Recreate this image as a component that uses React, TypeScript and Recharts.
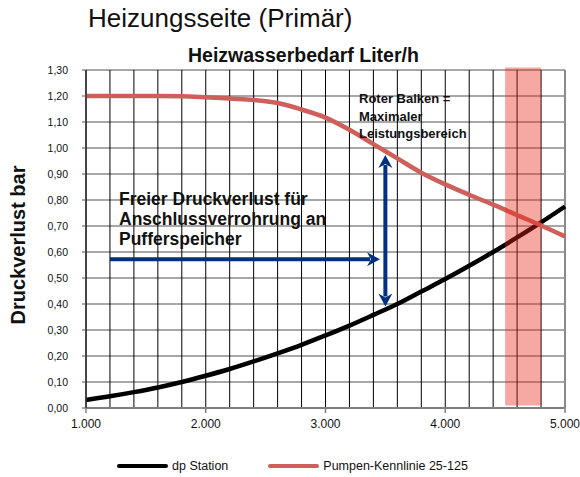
import React from "react";
import {
  LineChart,
  Line,
  XAxis,
  YAxis,
  CartesianGrid,
  ReferenceArea,
  ReferenceLine,
  Legend,
} from "recharts";

// Durchfluss Liter/h
const flowRates = [
  1000, 1200, 1400, 1600, 1800, 2000, 2200, 2400, 2600, 2800, 3000, 3200, 3400,
  3600, 3800, 4000, 4200, 4400, 4600, 4800, 5000,
];
// Druckverlust Station (bar)
const dpStation = [
  0.031, 0.045, 0.061, 0.079, 0.1, 0.124, 0.15, 0.179, 0.21, 0.243, 0.279,
  0.317, 0.358, 0.4, 0.448, 0.496, 0.547, 0.6, 0.656, 0.714, 0.775,
];
// Pumpen-Kennlinie (bar)
const pumpCurve = [
  1.2, 1.2, 1.2, 1.2, 1.199, 1.195, 1.19, 1.185, 1.173, 1.148, 1.117, 1.07,
  1.015, 0.96, 0.905, 0.86, 0.82, 0.782, 0.742, 0.702, 0.66,
];

const seriesNames = ["dp Station", "Pumpen-Kennlinie 25-125"];

const xTicks = flowRates;
const yTicks = [0, 0.1, 0.2, 0.3, 0.4, 0.5, 0.6, 0.7, 0.8, 0.9, 1.0, 1.1, 1.2, 1.3];

// roter Balken (max. Leistungsbereich)
const bandRange = [4500, 4800];
// Pfeile
const freeArrow = [
  { x: 1200, y: 0.572 },
  { x: 3455, y: 0.572 },
];
const dpArrow = [
  { x: 3500, y: 0.973 },
  { x: 3500, y: 0.39 },
];

const data = flowRates.map((q, i) => ({
  q,
  dp: dpStation[i],
  pump: pumpCurve[i],
}));

const FONT = "'Liberation Sans', Arial, sans-serif";
const NAVY = "#00307f";

const fmtNum = (v: number) =>
  v.toLocaleString("de-DE", { minimumFractionDigits: 0, maximumFractionDigits: 0 });

const XTick = (props: any) => {
  const { x, y, payload } = props;
  if (payload.value % 1000 !== 0) return null;
  return (
    <g>
      <line x1={x} x2={x} y1={y} y2={y + 5} stroke="#7f7f7f" strokeWidth={1.5} />
      <text
        x={x}
        y={y + 20}
        textAnchor="middle"
        fontSize={12}
        fontFamily={FONT}
        fill="#111"
      >
        {fmtNum(payload.value)}
      </text>
    </g>
  );
};

const arrowHead = (tx: number, ty: number, ux: number, uy: number) => {
  const L = 13;
  const W = 7;
  const N = 4;
  const nx = -uy;
  const ny = ux;
  const pts = [
    [tx, ty],
    [tx - ux * L + nx * W, ty - uy * L + ny * W],
    [tx - ux * (L - N), ty - uy * (L - N)],
    [tx - ux * L - nx * W, ty - uy * L - ny * W],
  ];
  return pts.map((p) => p.join(",")).join(" ");
};

const makeArrow = (both: boolean) => (props: any) => {
  const { x1, y1, x2, y2 } = props;
  const len = Math.hypot(x2 - x1, y2 - y1) || 1;
  const ux = (x2 - x1) / len;
  const uy = (y2 - y1) / len;
  const back = 10;
  const sx = both ? x1 + ux * back : x1;
  const sy = both ? y1 + uy * back : y1;
  return (
    <g>
      <line
        x1={sx}
        y1={sy}
        x2={x2 - ux * back}
        y2={y2 - uy * back}
        stroke={NAVY}
        strokeWidth={4}
      />
      <polygon points={arrowHead(x2, y2, ux, uy)} fill={NAVY} />
      {both && <polygon points={arrowHead(x1, y1, -ux, -uy)} fill={NAVY} />}
    </g>
  );
};

const LegendContent = (props: any) => {
  const payload = [...(props.payload || [])].sort(
    (a: any, b: any) => seriesNames.indexOf(a.value) - seriesNames.indexOf(b.value)
  );
  return (
    <div
      style={{
        display: "flex",
        alignItems: "center",
        paddingLeft: 117,
        height: 20,
        fontFamily: FONT,
        fontSize: 12.5,
        color: "#111",
      }}
    >
      {payload.map((entry: any, i: number) => (
        <div
          key={entry.value}
          style={{ display: "flex", alignItems: "center", marginRight: i === 0 ? 40 : 0 }}
        >
          <div
            style={{
              width: 51,
              height: 4,
              borderRadius: 2,
              background: entry.color,
              marginRight: 4,
            }}
          />
          <span>{entry.value}</span>
        </div>
      ))}
    </div>
  );
};

export default function App() {
  return (
    <div
      style={{
        position: "absolute",
        left: 0,
        top: 0,
        width: 580,
        height: 477,
        background: "#fff",
        fontFamily: FONT,
      }}
    >
      {/* Titel */}
      <div
        style={{
          position: "absolute",
          left: 88,
          top: 5,
          fontSize: 26,
          lineHeight: "26px",
          whiteSpace: "nowrap",
          color: "#111",
        }}
      >
        Heizungsseite (Primär)
      </div>
      <div
        style={{
          position: "absolute",
          left: 188,
          top: 46,
          fontSize: 19.5,
          lineHeight: "19.5px",
          fontWeight: "bold",
          whiteSpace: "nowrap",
          color: "#111",
        }}
      >
        Heizwasserbedarf Liter/h
      </div>

      <LineChart
        width={580}
        height={477}
        data={data}
        margin={{ top: 70, right: 15, left: 0, bottom: 39 }}
      >
        {/* Grid */}
        <CartesianGrid vertical={false} stroke="#8a8a8a" strokeWidth={1.5} />
        <CartesianGrid horizontal={false} stroke="#000" strokeWidth={1} />

        {/* X-Axis */}
        <XAxis
          dataKey="q"
          type="number"
          domain={[1000, 5000]}
          ticks={xTicks}
          interval={0}
          height={30}
          tickLine={false}
          tickSize={0}
          tickMargin={0}
          axisLine={{ stroke: "#7f7f7f", strokeWidth: 2 }}
          tick={<XTick />}
        />

        {/* Y-Axis */}
        <YAxis
          type="number"
          domain={[0, 1.3]}
          ticks={yTicks}
          interval={0}
          width={86}
          tickSize={4}
          tickMargin={14}
          tickLine={{ stroke: "#555" }}
          axisLine={{ stroke: "#333", strokeWidth: 1.5 }}
          tick={{ fontSize: 10.5, fill: "#111", fontFamily: FONT }}
          tickFormatter={(v: number) => v.toFixed(2).replace(".", ",")}
        />

        <ReferenceLine x={5000} stroke="#8a8a8a" strokeWidth={2} />

        {/* Kurven */}
        <Line
          type="monotone"
          dataKey="dp"
          name={seriesNames[0]}
          stroke="#000"
          strokeWidth={4.5}
          dot={false}
          isAnimationActive={false}
        />
        <Line
          type="monotone"
          dataKey="pump"
          name={seriesNames[1]}
          stroke="#cf5f5a"
          strokeWidth={4.5}
          dot={false}
          isAnimationActive={false}
        />

        {/* Roter Balken */}
        <ReferenceArea
          x1={bandRange[0]}
          x2={bandRange[1]}
          y1={0.01}
          y2={1.31}
          ifOverflow="visible"
          fill="#e8281a"
          fillOpacity={0.4}
          stroke="none"
          zIndex={450}
        />

        {/* Pfeile */}
        <ReferenceLine segment={freeArrow} shape={makeArrow(false)} zIndex={460} />
        <ReferenceLine segment={dpArrow} shape={makeArrow(true)} zIndex={460} />

        <Legend
          verticalAlign="middle"
          align="center"
          layout="horizontal"
          wrapperStyle={{ top: 456, left: 0, width: 580 }}
          content={<LegendContent />}
        />
      </LineChart>

      {/* Y-Achsentitel */}
      <div
        style={{
          position: "absolute",
          left: 18,
          top: 245,
          transform: "translate(-50%, -50%) rotate(-90deg)",
          fontSize: 20,
          fontWeight: "bold",
          whiteSpace: "nowrap",
          color: "#111",
        }}
      >
        Druckverlust bar
      </div>

      {/* Anmerkungen */}
      <div
        style={{
          position: "absolute",
          left: 359,
          top: 90,
          fontSize: 13,
          lineHeight: "17.5px",
          fontWeight: "bold",
          whiteSpace: "nowrap",
          color: "#111",
        }}
      >
        Roter Balken =<br />
        Maximaler
        <br />
        Leistungsbereich
      </div>
      <div
        style={{
          position: "absolute",
          left: 119,
          top: 189,
          fontSize: 17.5,
          lineHeight: "20px",
          fontWeight: "bold",
          whiteSpace: "nowrap",
          color: "#111",
        }}
      >
        Freier Druckverlust für
        <br />
        Anschlussverrohrung an
        <br />
        Pufferspeicher
      </div>
    </div>
  );
}
